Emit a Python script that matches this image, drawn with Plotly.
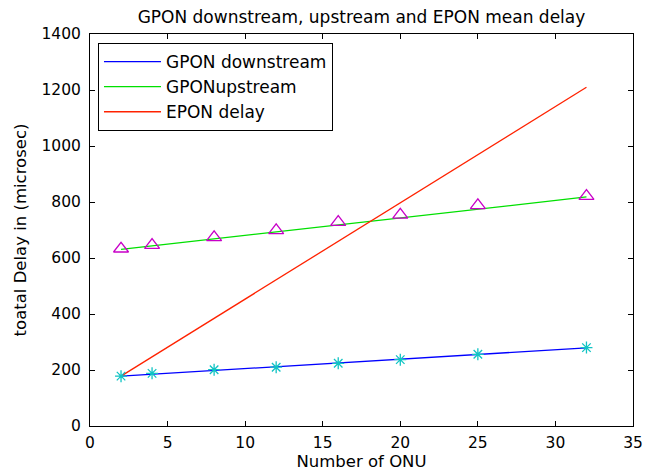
import plotly.graph_objects as go

# Number of ONUs at which delay was measured
onu = [2, 4, 8, 12, 16, 20, 25, 32]

# Measured mean delays (microseconds)
gpon_down = [178, 188, 201, 210, 224, 237, 256, 280]
gpon_up = [633, 646, 674, 699, 728, 754, 788, 821]

# Fitted trend lines (end points)
fit_x = [2, 32]
gpon_down_fit = [178, 279]
gpon_up_fit = [631, 818]
epon_delay = [178, 1210]

font = "DejaVu Sans, Verdana, sans-serif"

fig = go.Figure()

fig.add_trace(go.Scatter(x=fit_x, y=gpon_down_fit, mode="lines", name="GPON downstream",
                         line=dict(color="#0000ff", width=1.3)))
fig.add_trace(go.Scatter(x=fit_x, y=gpon_up_fit, mode="lines", name="GPONupstream",
                         line=dict(color="#00e000", width=1.3)))
fig.add_trace(go.Scatter(x=fit_x, y=epon_delay, mode="lines", name="EPON delay",
                         line=dict(color="#ff2200", width=1.3)))

fig.add_trace(go.Scatter(x=onu, y=gpon_down, mode="markers", showlegend=False,
                         marker=dict(symbol="asterisk-open", size=10, color="#10c4c4",
                                     line=dict(color="#10c4c4", width=1.3))))
fig.add_trace(go.Scatter(x=onu, y=gpon_up, mode="markers", showlegend=False,
                         marker=dict(symbol="triangle-up-open", size=13, color="#c800c8",
                                     line=dict(color="#c800c8", width=1.3))))

axis_common = dict(
    showgrid=False, zeroline=False, showline=True, linecolor="black", linewidth=1,
    mirror="ticks", ticks="inside", ticklen=5, tickcolor="black", automargin=False,
    tickfont=dict(family=font, size=15.5, color="black"),
)

fig.update_xaxes(range=[0, 35], tickvals=[0, 5, 10, 15, 20, 25, 30, 35],
                 ticklabelstandoff=2,
                 title=dict(text="Number of ONU", font=dict(family=font, size=16.5, color="black"),
                            standoff=4),
                 **axis_common)
fig.update_yaxes(range=[0, 1400], tickvals=[0, 200, 400, 600, 800, 1000, 1200, 1400],
                 ticklabelstandoff=5,
                 title=dict(text="toatal Delay in (microsec)",
                            font=dict(family=font, size=16.5, color="black"), standoff=10),
                 **axis_common)

fig.update_layout(
    width=656, height=475,
    margin=dict(l=90, r=23, t=34, b=49),
    paper_bgcolor="white", plot_bgcolor="white",
    title=dict(text="GPON downstream, upstream and EPON mean delay",
               font=dict(family=font, size=17, color="black"),
               x=(90 + 633) / 2 / 656, xanchor="center", y=1 - 17 / 475, yanchor="middle"),
    legend=dict(x=0.0147, y=0.977, xanchor="left", yanchor="top",
                bgcolor="white", bordercolor="black", borderwidth=1,
                font=dict(family=font, size=17, color="black"),
                itemwidth=57, tracegroupgap=0),
    showlegend=True,
)

fig.write_html("out.html")
